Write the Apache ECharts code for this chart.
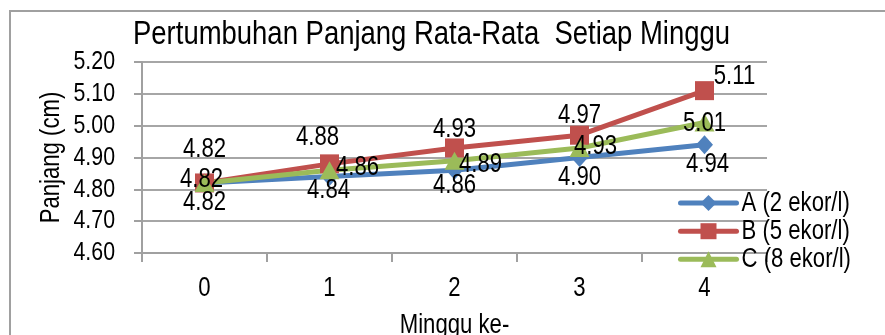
<!DOCTYPE html>
<html>
<head>
<meta charset="utf-8">
<script src="https://cdn.jsdelivr.net/npm/echarts@6/dist/echarts.min.js"></script>
<style>
  html, body { margin: 0; padding: 0; background: #fff; }
  #chart { width: 885px; height: 335px; }
</style>
</head>
<body>
<div id="chart"></div>
<script>
// Weeks and mean length (cm) per stocking density
const weeks = ['0', '1', '2', '3', '4'];
const seriesNames = ['A (2 ekor/l)', 'B (5 ekor/l)', 'C (8 ekor/l)'];
const valuesA = [4.82, 4.84, 4.86, 4.90, 4.94];
const valuesB = [4.82, 4.88, 4.93, 4.97, 5.11];
const valuesC = [4.82, 4.86, 4.89, 4.93, 5.01];
const yTicks = [4.60, 4.70, 4.80, 4.90, 5.00, 5.10, 5.20];

// Label placement (pixel offset of each label centre from its point)
const offsetsA = [[0, 20], [-1, 14], [0, 15], [0, 20], [3, 20]];
const offsetsB = [[0, -33], [-12, -26], [0, -18], [0, -20], [30, -14]];
const offsetsC = [[-3, -3], [28, -3], [26, 4], [16, -1], [0, 1]];

// No narrow sans face is installed, so canvas text is condensed horizontally
// around its anchor point (measurements are scaled to keep layout consistent).
const SQUEEZE = 0.82;
(function () {
  const proto = CanvasRenderingContext2D.prototype;
  const fill = proto.fillText;
  const stroke = proto.strokeText;
  const measure = proto.measureText;
  function wrap(orig) {
    return function (text, x, y, maxWidth) {
      this.save();
      this.translate(x, y);
      this.scale(SQUEEZE, 1);
      if (maxWidth !== undefined) orig.call(this, text, 0, 0, maxWidth / SQUEEZE);
      else orig.call(this, text, 0, 0);
      this.restore();
    };
  }
  proto.fillText = wrap(fill);
  proto.strokeText = wrap(stroke);
  proto.measureText = function (text) {
    const m = measure.call(this, text);
    return {
      width: m.width * SQUEEZE,
      actualBoundingBoxLeft: m.actualBoundingBoxLeft * SQUEEZE,
      actualBoundingBoxRight: m.actualBoundingBoxRight * SQUEEZE,
      actualBoundingBoxAscent: m.actualBoundingBoxAscent,
      actualBoundingBoxDescent: m.actualBoundingBoxDescent,
      fontBoundingBoxAscent: m.fontBoundingBoxAscent,
      fontBoundingBoxDescent: m.fontBoundingBoxDescent
    };
  };
})();

const FONT = '"Liberation Sans", Arial, sans-serif';
const colors = ['#4f81bd', '#c0504d', '#9bbb59'];

function withLabels(values, offsets) {
  return values.map((v, i) => ({
    value: v,
    label: { position: 'inside', offset: offsets[i] }
  }));
}

const labelStyle = {
  show: true,
  color: '#000',
  fontFamily: FONT,
  fontSize: 27,
  formatter: p => p.value.toFixed(2)
};

const chart = echarts.init(document.getElementById('chart'), null, { renderer: 'canvas' });

chart.setOption({
  animation: false,
  backgroundColor: '#fff',
  title: {
    text: 'Pertumbuhan Panjang Rata-Rata  Setiap Minggu',
    left: 133,
    top: 21,
    padding: 0,
    textStyle: { fontFamily: FONT, fontSize: 33.5, fontWeight: 'normal', color: '#000' }
  },
  graphic: [{
    type: 'rect',
    shape: { x: 10, y: 11, width: 900, height: 400 },
    style: { fill: 'none', stroke: '#a0a0a0', lineWidth: 2 },
    silent: true,
    z: -1
  }],
  legend: {
    orient: 'vertical',
    left: 678,
    top: 192,
    itemWidth: 56,
    itemHeight: 20,
    itemGap: 6,
    padding: 0,
    lineStyle: { width: 5, cap: 'round' },
    textStyle: { fontFamily: FONT, fontSize: 27, color: '#000' },
    data: seriesNames
  },
  grid: {
    left: 142, right: 118, top: 62, bottom: 82,
    containLabel: false,
    outerBoundsMode: 'none'
  },
  xAxis: {
    type: 'category',
    data: weeks,
    boundaryGap: true,
    name: 'Minggu ke-',
    nameLocation: 'middle',
    nameGap: 61,
    nameTextStyle: { fontFamily: FONT, fontSize: 27, color: '#000' },
    axisLine: { show: true, lineStyle: { color: '#a0a0a0', width: 2 } },
    axisTick: { show: true, length: 9, lineStyle: { color: '#a0a0a0', width: 2 } },
    axisLabel: { fontFamily: FONT, fontSize: 27, color: '#000', margin: 24 },
    splitLine: { show: false }
  },
  yAxis: {
    type: 'value',
    min: yTicks[0],
    max: yTicks[yTicks.length - 1],
    interval: 0.1,
    name: 'Panjang (cm)',
    nameLocation: 'middle',
    nameGap: 67,
    nameRotate: 90,
    nameTextStyle: { fontFamily: FONT, fontSize: 27, color: '#000' },
    axisLine: { show: true, lineStyle: { color: '#a0a0a0', width: 2 } },
    axisTick: { show: true, length: 8, lineStyle: { color: '#a0a0a0', width: 2 } },
    axisLabel: {
      fontFamily: FONT, fontSize: 26, color: '#000', margin: 27,
      formatter: v => v.toFixed(2)
    },
    splitLine: { show: true, lineStyle: { color: '#a6a6a6', width: 2 } }
  },
  series: [
    {
      name: seriesNames[0],
      type: 'line',
      data: withLabels(valuesA, offsetsA),
      symbol: 'diamond',
      symbolSize: [17, 19],
      lineStyle: { width: 5, color: colors[0] },
      itemStyle: { color: colors[0] },
      label: labelStyle
    },
    {
      name: seriesNames[1],
      type: 'line',
      data: withLabels(valuesB, offsetsB),
      symbol: 'rect',
      symbolSize: 19,
      lineStyle: { width: 5, color: colors[1] },
      itemStyle: { color: colors[1] },
      label: labelStyle
    },
    {
      name: seriesNames[2],
      type: 'line',
      data: withLabels(valuesC, offsetsC),
      symbol: 'triangle',
      symbolSize: [20, 18],
      lineStyle: { width: 5, color: colors[2] },
      itemStyle: { color: colors[2] },
      label: labelStyle
    }
  ]
});
</script>
</body>
</html>
